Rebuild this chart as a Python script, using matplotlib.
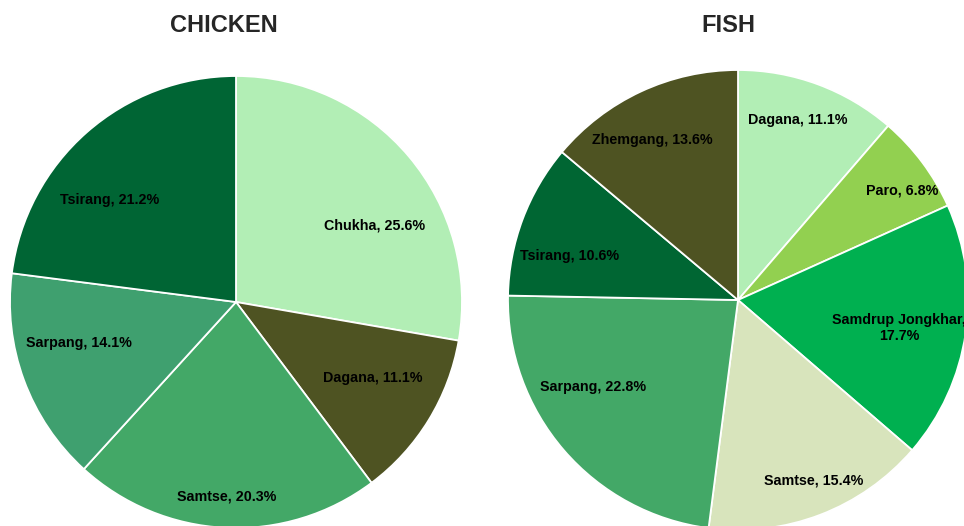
import numpy as np
import matplotlib
matplotlib.use('Agg')
import matplotlib.pyplot as plt

# chicken: share of production by dzongkhag (%)
chicken_labels = ['Chukha', 'Dagana', 'Samtse', 'Sarpang', 'Tsirang']
chicken_values = [25.6, 11.1, 20.3, 14.1, 21.2]
chicken_colors = ['#B2EEB5', '#4E5322', '#43A867', '#3FA06F', '#006534']

# fish: share of production by dzongkhag (%)
fish_labels = ['Dagana', 'Paro', 'Samdrup Jongkhar', 'Samtse', 'Sarpang', 'Tsirang', 'Zhemgang']
fish_values = [11.1, 6.8, 17.7, 15.4, 22.8, 10.6, 13.6]
fish_colors = ['#B2EEB5', '#92D050', '#00B050', '#D8E4BC', '#43A867', '#006633', '#4E5322']

# label placement: (radius, angle nudge in degrees) per slice
chicken_lbl = [(0.70, -11), (0.69, 2.5), (0.86, 0), (0.72, -5.7), (0.72, 9.7)]
fish_lbl = [(0.825, 2), (0.86, -3), (0.71, -1.6), (0.85, 1.7), (0.735, -9.7), (0.755, 5.9), (0.79, 3)]

W, H = 964, 526


def draw_pie(cx, cy, r, values, labels, colors, lbl, title, title_x):
    ax = plt.gcf().add_axes([(cx - r) / W, 1 - (cy + r) / H, 2 * r / W, 2 * r / H])
    wedges, _ = ax.pie(values, colors=colors, startangle=90, counterclock=False,
                       wedgeprops=dict(edgecolor='white', linewidth=1.3))
    ax.set_xlim(-1, 1)
    ax.set_ylim(-1, 1)
    ax.set_aspect('equal')
    ax.axis('off')
    for w, name, val, (rr, da) in zip(wedges, labels, values, lbl):
        ang = np.deg2rad((w.theta1 + w.theta2) / 2 + da)
        txt = f'{name},\n{val}%' if len(name) > 12 else f'{name}, {val}%'
        ax.text(rr * np.cos(ang), rr * np.sin(ang), txt, ha='center', va='center',
                fontsize=10.3, fontweight='bold', family='Liberation Sans',
                linespacing=1.15, color='black')
    plt.gcf().text(title_x / W, 1 - 26 / H, title, ha='center', va='center',
                   fontsize=17, fontweight='bold', family='Liberation Sans',
                   color='#262626')


def main():
    fig = plt.figure(figsize=(W / 100, H / 100), dpi=100)
    draw_pie(236, 302, 226, chicken_values, chicken_labels, chicken_colors,
             chicken_lbl, 'CHICKEN', 224)
    draw_pie(738, 300, 230, fish_values, fish_labels, fish_colors,
             fish_lbl, 'FISH', 728)
    fig.savefig('out.png', dpi=100)


if __name__ == '__main__':
    main()
